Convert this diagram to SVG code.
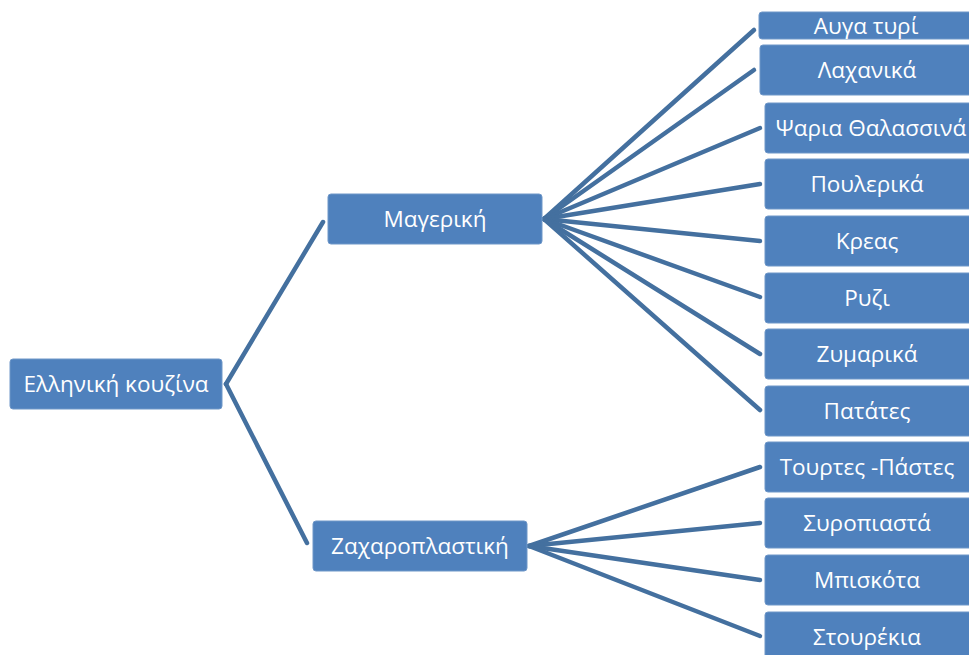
<svg xmlns="http://www.w3.org/2000/svg" width="969" height="655" viewBox="0 0 969 655">
<style>
.box{fill:#4f81bd;stroke:#6f97c8;stroke-width:1}
.t{fill:#ffffff;font-family:"Open Sans","Noto Sans",sans-serif;font-size:22.5px;text-anchor:middle;dominant-baseline:central}
.c{stroke:#44709f;stroke-width:4.5;fill:none;stroke-linecap:round}
</style>
<rect width="969" height="655" fill="#ffffff"/>
<g id="connectors">
<line class="c" x1="226" y1="384" x2="323" y2="222"/>
<line class="c" x1="226" y1="384" x2="307" y2="543"/>
<line class="c" x1="544" y1="219" x2="754" y2="30"/>
<line class="c" x1="544" y1="219" x2="754" y2="70"/>
<line class="c" x1="544" y1="219" x2="760" y2="128"/>
<line class="c" x1="544" y1="219" x2="760" y2="184"/>
<line class="c" x1="544" y1="219" x2="760" y2="241"/>
<line class="c" x1="544" y1="219" x2="760" y2="297"/>
<line class="c" x1="544" y1="219" x2="760" y2="354"/>
<line class="c" x1="544" y1="219" x2="760" y2="410"/>
<line class="c" x1="529" y1="546" x2="760" y2="467"/>
<line class="c" x1="529" y1="546" x2="760" y2="523"/>
<line class="c" x1="529" y1="546" x2="760" y2="580"/>
<line class="c" x1="529" y1="546" x2="760" y2="636"/>
</g>
<g id="n-root"><rect class="box" x="10" y="359" width="212" height="50" rx="3"/><text class="t" x="116" y="383">Ελληνική κουζίνα</text></g>
<g id="n-mag"><rect class="box" x="328" y="194" width="214" height="50" rx="3"/><text class="t" x="435" y="218">Μαγερική</text></g>
<g id="n-zax"><rect class="box" x="313" y="521" width="214" height="50" rx="3"/><text class="t" x="420" y="545">Ζαχαροπλαστική</text></g>
<g id="n-1"><rect class="box" x="759" y="12" width="214" height="27" rx="3"/><text class="t" x="866" y="25">Αυγα τυρί</text></g>
<g id="n-2"><rect class="box" x="760" y="45" width="214" height="50" rx="3"/><text class="t" x="867" y="69">Λαχανικά</text></g>
<g id="n-3"><rect class="box" x="765" y="103" width="214" height="50" rx="3"/><text class="t" x="871" y="127">Ψαρια Θαλασσινά</text></g>
<g id="n-4"><rect class="box" x="765" y="159" width="214" height="50" rx="3"/><text class="t" x="867" y="183">Πουλερικά</text></g>
<g id="n-5"><rect class="box" x="765" y="216" width="214" height="50" rx="3"/><text class="t" x="867" y="240">Κρεας</text></g>
<g id="n-6"><rect class="box" x="765" y="273" width="214" height="50" rx="3"/><text class="t" x="867" y="297">Ρυζι</text></g>
<g id="n-7"><rect class="box" x="765" y="329" width="214" height="50" rx="3"/><text class="t" x="867" y="353">Ζυμαρικά</text></g>
<g id="n-8"><rect class="box" x="765" y="386" width="214" height="50" rx="3"/><text class="t" x="867" y="410">Πατάτες</text></g>
<g id="n-9"><rect class="box" x="765" y="442" width="214" height="50" rx="3"/><text class="t" x="867" y="466">Τουρτες -Πάστες</text></g>
<g id="n-10"><rect class="box" x="765" y="498" width="214" height="50" rx="3"/><text class="t" x="867" y="522">Συροπιαστά</text></g>
<g id="n-11"><rect class="box" x="765" y="555" width="214" height="50" rx="3"/><text class="t" x="867" y="579">Μπισκότα</text></g>
<g id="n-12"><rect class="box" x="765" y="612" width="214" height="50" rx="3"/><text class="t" x="867" y="636">Στουρέκια</text></g>
</svg>
